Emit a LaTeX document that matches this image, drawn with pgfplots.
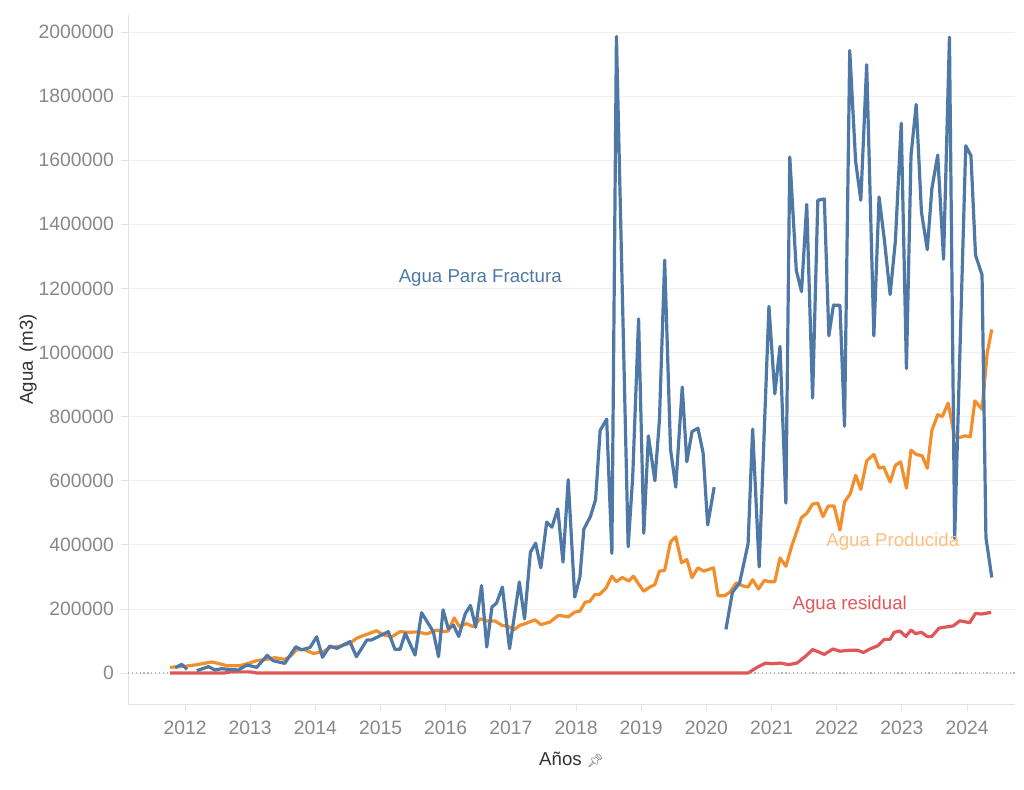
\documentclass[border=0pt]{standalone}
\usepackage{fontspec}
\setmainfont{Liberation Sans}
\newfontfamily\emojifont{Noto Emoji}
\usepackage{pgfplots}
\pgfplotsset{compat=1.18}

\definecolor{fractura}{HTML}{4E79A7}
\definecolor{producida}{HTML}{F28E2B}
\definecolor{producidalbl}{HTML}{FFBE7D}
\definecolor{residual}{HTML}{E15759}
\definecolor{ticktxt}{HTML}{888888}
\definecolor{titletxt}{HTML}{333333}
\definecolor{pinc}{HTML}{666666}
\definecolor{gridc}{HTML}{EFEFEF}
\definecolor{axisc}{HTML}{E2E2E2}

\begin{document}
\begin{tikzpicture}
\begin{axis}[
  name=ax,
  scale only axis,
  width=665.25pt, height=516.75pt,
  xmin=2011.125, xmax=2024.736,
  ymin=-96700, ymax=2053000,
  axis lines*=left,
  axis line style={axisc, line width=0.6pt},
  tick style={axisc, line width=0.6pt},
  tick align=outside,
  major tick length=5pt,
  xtick={2012,2013,...,2024},
  ytick={0,200000,...,2000000},
  scaled y ticks=false,
  /pgf/number format/1000 sep={},
  /pgf/number format/fixed,
  /pgf/number format/assume math mode=true,
  ymajorgrids,
  grid style={gridc, line width=0.6pt},
  ticklabel style={font=\fontsize{14.5}{16}\selectfont, text=ticktxt},
  xticklabel style={yshift=-4pt},
  yticklabel style={xshift=-2pt},
  xlabel={Años {\emojifont\fontsize{10}{12}\selectfont\textcolor{pinc}{📌}}},
  ylabel={Agua\, (m3)},
  label style={font=\fontsize{14}{16}\selectfont, text=titletxt},
  xlabel style={at={(axis description cs:0.5,-0.0813)}, anchor=center},
  ylabel style={at={(axis description cs:-0.1127,0.5)}, anchor=center},
  unbounded coords=jump,
  clip=false,
]

% linea de cero punteada
\addplot[gray!55, dotted, line width=0.9pt] coordinates {(2011.125,0) (2024.736,0)};

% Agua residual
\addplot[residual, line width=2.4pt, line join=round] coordinates {
(2011.77,0) (2012.60,0) (2012.70,3500) (2013.00,3500) (2013.10,0)
(2020.64,0) (2020.78,18000) (2020.91,31000) (2021.01,29000) (2021.14,31000)
(2021.26,26000) (2021.39,31000) (2021.52,52000) (2021.63,73000) (2021.72,66000)
(2021.81,58000) (2021.94,75000) (2022.05,68000) (2022.20,71000) (2022.32,71000)
(2022.41,64000) (2022.51,75000) (2022.63,85000) (2022.73,105000) (2022.82,105000)
(2022.88,127000) (2022.97,131000) (2023.06,114000) (2023.14,134000) (2023.21,123000)
(2023.30,127000) (2023.39,114000) (2023.46,114000) (2023.57,140000) (2023.69,144000)
(2023.79,147000) (2023.89,163000) (2024.04,157000) (2024.13,186000) (2024.22,184000)
(2024.37,189000)
};

% Agua Producida
\addplot[producida, line width=2.4pt, line join=round] coordinates {
(2011.77,17700) (2012.03,21800) (2012.18,26000) (2012.41,34300) (2012.51,30000)
(2012.64,22900) (2012.84,22900) (2012.97,30000) (2013.10,38500) (2013.25,42600)
(2013.38,47800) (2013.53,42600) (2013.62,53000) (2013.71,72000) (2013.82,74000)
(2013.97,61000) (2014.12,66500) (2014.22,79000) (2014.38,84000) (2014.53,92500)
(2014.63,108000) (2014.71,115000) (2014.81,122000) (2014.94,132000) (2015.04,119000)
(2015.17,113000) (2015.30,129000) (2015.43,127000) (2015.56,128000) (2015.71,122000)
(2015.86,134000) (2015.94,129000) (2016.04,131000) (2016.13,172000) (2016.21,145000)
(2016.32,154000) (2016.42,145000) (2016.53,169000) (2016.63,162000) (2016.76,162000)
(2016.86,149000) (2016.96,145000) (2017.05,135000) (2017.14,149000) (2017.22,154000)
(2017.37,166000) (2017.46,151000) (2017.60,159000) (2017.73,180000) (2017.88,175000)
(2017.98,190000) (2018.06,193000) (2018.14,221000) (2018.21,223000) (2018.29,245000)
(2018.36,245000) (2018.46,265000) (2018.55,302000) (2018.62,285000) (2018.71,298000)
(2018.81,287000) (2018.88,302000) (2018.96,278000) (2019.04,255000) (2019.13,268000)
(2019.21,276000) (2019.28,318000) (2019.36,320000) (2019.45,409000) (2019.53,425000)
(2019.62,344000) (2019.70,354000) (2019.78,298000) (2019.87,328000) (2019.96,318000)
(2020.11,328000) (2020.18,241000) (2020.28,241000) (2020.36,252000) (2020.46,281000)
(2020.56,272000) (2020.64,268000) (2020.71,291000) (2020.80,262000) (2020.89,289000)
(2020.96,285000) (2021.05,285000) (2021.13,359000) (2021.22,333000) (2021.31,396000)
(2021.46,485000) (2021.54,498000) (2021.63,527000) (2021.71,530000) (2021.79,488000)
(2021.87,521000) (2021.96,521000) (2022.05,446000) (2022.12,534000) (2022.21,560000)
(2022.29,617000) (2022.37,573000) (2022.46,662000) (2022.57,682000) (2022.65,639000)
(2022.72,643000) (2022.82,596000) (2022.90,648000) (2022.98,659000) (2023.07,577000)
(2023.14,695000) (2023.22,682000) (2023.31,678000) (2023.39,639000) (2023.46,757000)
(2023.55,806000) (2023.62,800000) (2023.71,842000) (2023.81,737000) (2023.89,735000)
(2023.96,740000) (2024.05,737000) (2024.12,849000) (2024.23,823000) (2024.31,1000000)
(2024.38,1072000)
};

% Agua Para Fractura
\addplot[fractura, line width=2.4pt, line join=round] coordinates {
(2011.85,16600) (2011.95,27000) (2012.03,11400) (2012.10,nan)
(2012.18,7300) (2012.36,19800) (2012.46,9400) (2012.56,13500) (2012.66,11400)
(2012.82,9400) (2012.95,25000) (2013.10,17700) (2013.26,55000) (2013.35,38500)
(2013.53,30000) (2013.70,82000) (2013.79,72000) (2013.92,80000) (2014.02,113000)
(2014.11,49000) (2014.22,84000) (2014.33,77000) (2014.53,98000) (2014.63,51000)
(2014.79,103000) (2014.86,103000) (2015.12,129000) (2015.22,74000) (2015.30,74000)
(2015.38,124000) (2015.53,56000) (2015.63,188000) (2015.81,129000) (2015.89,51000)
(2015.96,197000) (2016.04,138000) (2016.12,149000) (2016.20,114000) (2016.30,185000)
(2016.38,211000) (2016.46,143000) (2016.55,273000) (2016.63,81000) (2016.71,206000)
(2016.78,218000) (2016.87,268000) (2016.98,76000) (2017.13,284000) (2017.21,169000)
(2017.30,377000) (2017.38,405000) (2017.46,328000) (2017.55,471000) (2017.63,455000)
(2017.72,512000) (2017.80,346000) (2017.88,603000) (2017.98,237000) (2018.06,300000)
(2018.12,449000) (2018.22,488000) (2018.30,541000) (2018.37,757000) (2018.47,792000)
(2018.55,373000) (2018.62,1986000) (2018.80,394000) (2018.87,613000) (2018.96,1105000)
(2019.04,436000) (2019.11,740000) (2019.21,600000) (2019.28,790000) (2019.36,1288000)
(2019.45,698000) (2019.53,580000) (2019.63,892000) (2019.70,659000) (2019.78,753000)
(2019.87,764000) (2019.95,687000) (2020.02,462000) (2020.12,580000) (2020.20,nan)
(2020.30,136000) (2020.40,252000) (2020.51,281000) (2020.64,403000) (2020.71,761000)
(2020.81,331000) (2020.96,1144000) (2021.05,871000) (2021.13,1019000) (2021.22,530000)
(2021.28,1610000) (2021.38,1256000) (2021.46,1190000) (2021.54,1462000) (2021.63,858000)
(2021.71,1475000) (2021.81,1479000) (2021.88,1052000) (2021.95,1148000) (2022.05,1147000)
(2022.12,770000) (2022.20,1942000) (2022.29,1597000) (2022.37,1475000) (2022.46,1898000)
(2022.57,1052000) (2022.65,1485000) (2022.73,1354000) (2022.82,1181000) (2022.90,1347000)
(2022.99,1715000) (2023.07,950000) (2023.14,1614000) (2023.22,1774000) (2023.30,1439000)
(2023.39,1321000) (2023.46,1511000) (2023.55,1616000) (2023.64,1291000) (2023.73,1984000)
(2023.81,420000) (2023.98,1645000) (2024.06,1614000) (2024.13,1304000) (2024.23,1242000)
(2024.29,422000) (2024.38,298000)
};

\node[text=fractura, font=\fontsize{14}{16}\selectfont] at (axis cs:2016.53,1232000) {Agua Para Fractura};
\node[text=producidalbl, font=\fontsize{14}{16}\selectfont] at (axis cs:2022.86,409000) {Agua Producida};
\node[text=residual, font=\fontsize{14}{16}\selectfont] at (axis cs:2022.20,212000) {Agua residual};
\end{axis}
\pgfresetboundingbox
\path ([shift={(-96pt,-63.75pt)}]ax.south west) rectangle ([shift={(6.75pt,11.25pt)}]ax.north east);
\end{tikzpicture}
\end{document}
